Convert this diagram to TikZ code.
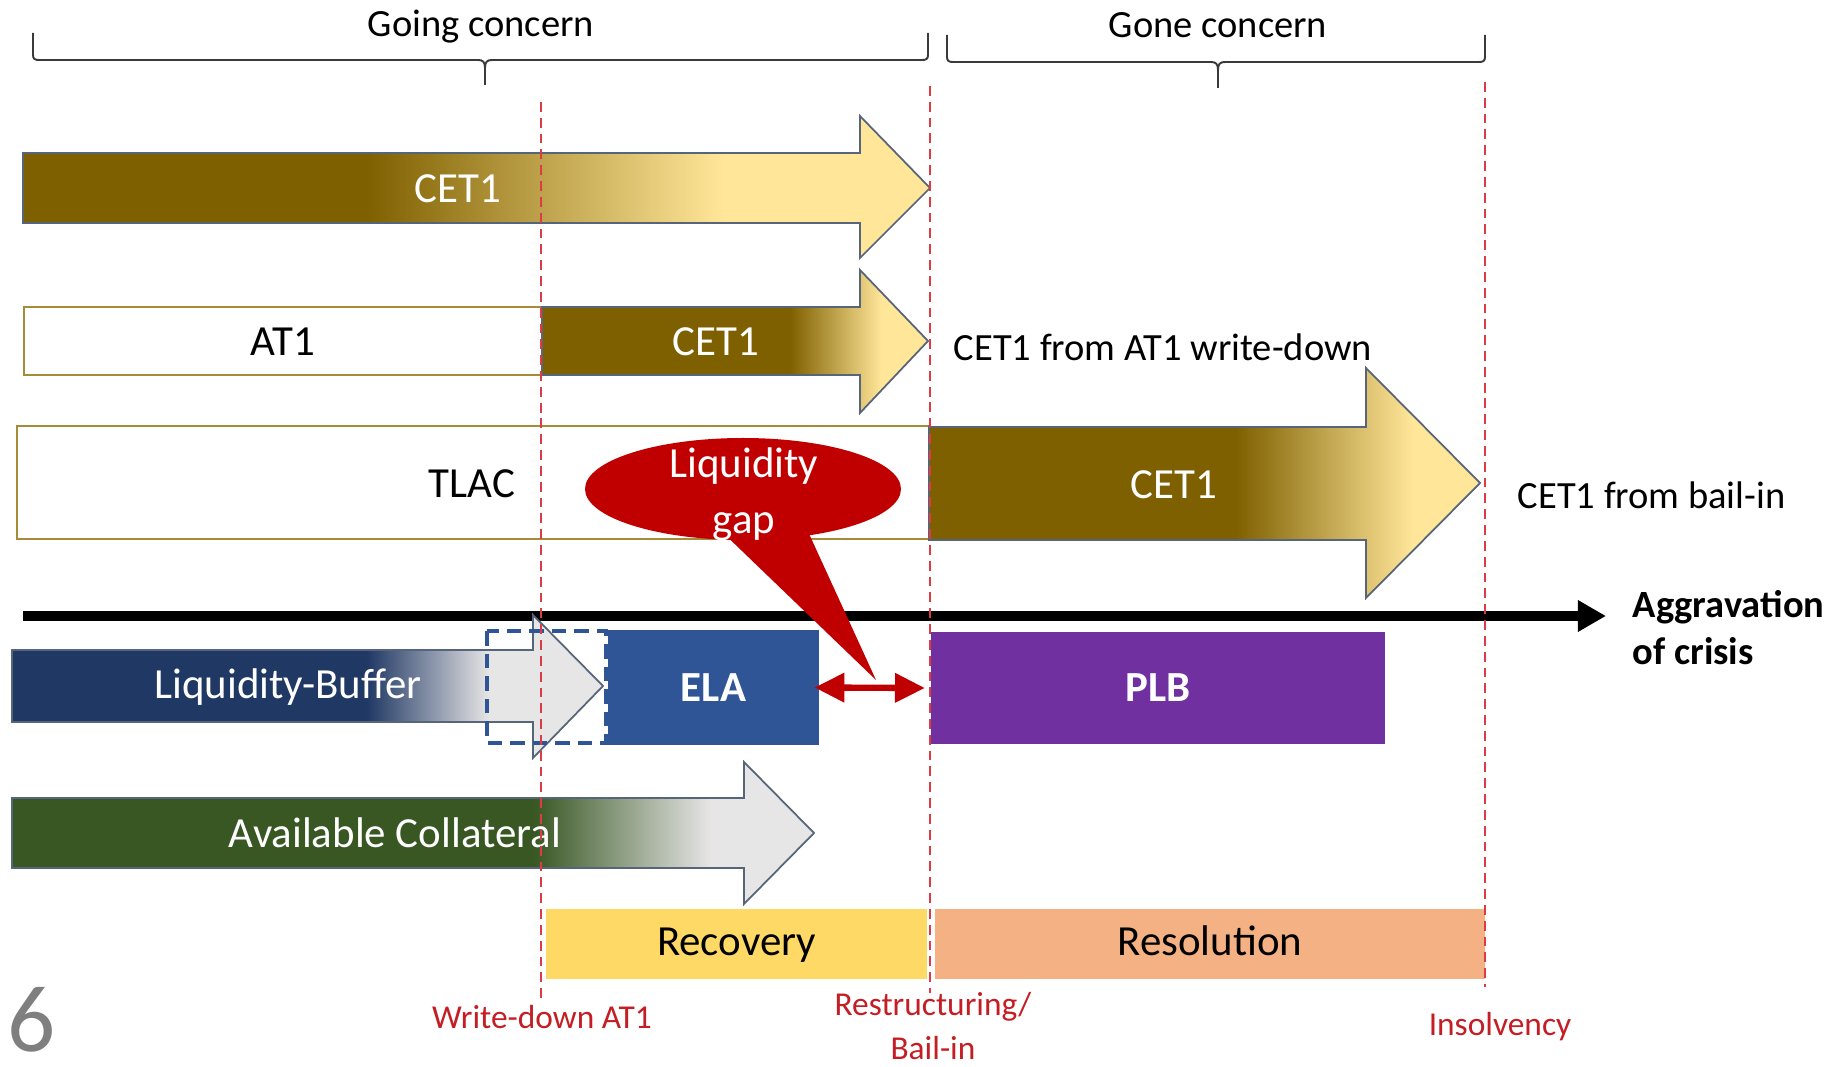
\documentclass[tikz,border=0pt]{standalone}
\usepackage{fontspec}
\setmainfont{Carlito}
\usetikzlibrary{arrows.meta}

\definecolor{capdark}{HTML}{7F6000}
\definecolor{caplight}{HTML}{FFE699}
\definecolor{navy}{HTML}{203864}
\definecolor{lightgrey}{HTML}{E7E6E6}
\definecolor{collgreen}{HTML}{385723}
\definecolor{elablue}{HTML}{2F5597}
\definecolor{plbpurple}{HTML}{7030A0}
\definecolor{recyellow}{HTML}{FFD966}
\definecolor{resorange}{HTML}{F4B183}
\definecolor{gapred}{HTML}{C00000}
\definecolor{markred}{HTML}{DC3C44}
\definecolor{labelred}{HTML}{C41E24}
\definecolor{boxgold}{HTML}{A68C38}
\definecolor{edgegrey}{HTML}{56657A}
\definecolor{bracegrey}{HTML}{3A3A3A}
\definecolor{pagenum}{HTML}{7F7F7F}

% horizontal colour ramps for the capital and liquidity arrows
\pgfdeclarehorizontalshading{cetone}{100bp}{color(0bp)=(capdark); color(43.9bp)=(capdark); color(63.6bp)=(caplight); color(100bp)=(caplight)}
\pgfdeclarehorizontalshading{cettwo}{100bp}{color(0bp)=(capdark); color(57.1bp)=(capdark); color(69bp)=(caplight); color(100bp)=(caplight)}
\pgfdeclarehorizontalshading{cetthree}{100bp}{color(0bp)=(capdark); color(52.8bp)=(capdark); color(68.9bp)=(caplight); color(100bp)=(caplight)}
\pgfdeclarehorizontalshading{bufferramp}{100bp}{color(0bp)=(navy); color(55bp)=(navy); color(65.4bp)=(lightgrey); color(100bp)=(lightgrey)}
\pgfdeclarehorizontalshading{collatramp}{100bp}{color(0bp)=(collgreen); color(57.5bp)=(collgreen); color(68.6bp)=(lightgrey); color(100bp)=(lightgrey)}

\tikzset{
  bigfont/.style={font=\fontsize{12.2pt}{14.5pt}\selectfont},
  midfont/.style={font=\fontsize{10.95pt}{13.4pt}\selectfont},
  redfont/.style={font=\fontsize{9.5pt}{12.5pt}\selectfont, text=labelred},
  whitelabel/.style={bigfont, text=white, inner sep=0pt},
  blacklabel/.style={bigfont, text=black, inner sep=0pt},
  phasebox/.style={blacklabel, minimum height=0.70cm, text height=0.7em, text depth=0.05em},
  arrowedge/.style={draw=edgegrey, line width=0.5pt},
  goldbox/.style={draw=boxgold, line width=0.7pt, fill=white},
  bracepath/.style={draw=bracegrey, line width=0.55pt},
  marker/.style={draw=markred, line width=0.6pt, dash pattern=on 2.8pt off 1.7pt},
}

\begin{document}
\begin{tikzpicture}[x=0.01cm, y=-0.01cm]
\useasboundingbox (0,0) rectangle (1841,1067);

% ---- phase braces ----
\path[bracepath] (33,33) -- (33,55) .. controls (33,59) and (35,60) .. (39,60)
  -- (478,60) .. controls (483,60) and (485,62) .. (485,68) -- (485,85)
  (485,68) .. controls (485,62) and (487,60) .. (492,60)
  -- (922,60) .. controls (926,60) and (928,59) .. (928,55) -- (928,33);
\node[midfont, inner sep=0pt] (going) at (481,27) {Going concern};

\path[bracepath] (947,35) -- (947,57) .. controls (947,61) and (949,62) .. (953,62)
  -- (1211,62) .. controls (1216,62) and (1218,64) .. (1218,70) -- (1218,88)
  (1218,70) .. controls (1218,64) and (1220,62) .. (1225,62)
  -- (1479,62) .. controls (1483,62) and (1485,61) .. (1485,57) -- (1485,35);
\node[midfont, inner sep=0pt] (gone) at (1218,25) {Gone concern};

% ---- row 1: CET1 ----
\shadedraw[shading=cetone, arrowedge] (23,153) -- (860,153) -- (860,116) -- (930,188)
  -- (860,258) -- (860,223) -- (23,223) -- cycle;
\node[whitelabel] (cetA) at (458,189) {CET1};

% ---- row 2: AT1 converted to CET1 ----
\path[goldbox] (24,307) rectangle (542,375);
\node[blacklabel] (at1) at (283,342) {AT1};
\shadedraw[shading=cettwo, arrowedge] (542,307) -- (860,307) -- (860,270) -- (928,341)
  -- (860,413) -- (860,375) -- (542,375) -- cycle;
\node[whitelabel] (cetB) at (716,342) {CET1};
\node[midfont, inner sep=0pt, anchor=west] (fromat1) at (953,347) {CET1 from AT1 write-down};

% ---- row 3: TLAC and bail-in ----
\path[goldbox] (17,426) rectangle (930,539);
\node[blacklabel] (tlac) at (472,484) {TLAC};
\shadedraw[shading=cetthree, arrowedge] (929,427) -- (1366,427) -- (1366,368) -- (1480,483)
  -- (1366,598) -- (1366,540) -- (929,540) -- cycle;
\node[whitelabel] (cetC) at (1174,485) {CET1};
\node[midfont, inner sep=0pt, anchor=west] (frombail) at (1517,495) {CET1 from bail-in};

% ---- time axis ----
\coordinate (axstart) at (23,616);
\coordinate (axend) at (1606,616);
\draw[line width=2.6pt, -{Triangle[length=8pt,width=8.5pt]}] (axstart) -- (axend);
\node[font=\fontsize{10.95pt}{13.4pt}\selectfont\bfseries, align=left, anchor=west, inner sep=0pt]
  (aggr) at (1632,628) {Aggravation\\of crisis};

% ---- liquidity gap callout ----
\coordinate (gaptip) at (876,680);
\fill[gapred] (715,525) -- (805,525) -- (gaptip) -- cycle;
\fill[gapred] (743,489) ellipse [x radius=158, y radius=51];
\node[whitelabel, font=\fontsize{12.2pt}{15.9pt}\selectfont, align=center] (gap) at (744,494) {Liquidity\\gap};

% ---- row 4: liquidity buffer, ELA, PLB ----
\shadedraw[shading=bufferramp, arrowedge] (12,650) -- (533,650) -- (533,615) -- (603,686)
  -- (533,758) -- (533,722) -- (12,722) -- cycle;
\node[whitelabel] (buffer) at (288,687) {Liquidity-Buffer};
\draw[elablue, line width=1.1pt, dash pattern=on 4.2pt off 2.2pt] (487,631) rectangle (606,743);
\node[fill=elablue, minimum width=2.11cm, minimum height=1.15cm, inner sep=0pt,
  text=white, font=\fontsize{12.2pt}{14.5pt}\selectfont\bfseries] (ela) at (713.5,687.5) {ELA};
\node[fill=plbpurple, minimum width=4.54cm, minimum height=1.12cm, inner sep=0pt,
  text=white, font=\fontsize{12.2pt}{14.5pt}\selectfont\bfseries] (plb) at (1158,688) {PLB};
\draw[gapred, line width=1.8pt, {Triangle[length=8.5pt,width=8pt]}-{Triangle[length=8.5pt,width=8pt]}]
  ([xshift=-1.5pt]ela.east) -- ([xshift=-1.5pt]plb.west);

% ---- row 5: available collateral ----
\shadedraw[shading=collatramp, arrowedge] (12,798) -- (744,798) -- (744,762) -- (814,833)
  -- (744,904) -- (744,868) -- (12,868) -- cycle;
\node[whitelabel] (collat) at (395,833) {Available Collateral};

% ---- row 6: recovery and resolution phases ----
\node[fill=recyellow, minimum width=3.81cm, inner sep=0pt, phasebox]
  (recovery) at (736.5,944) {Recovery};
\node[fill=resorange, minimum width=5.50cm, inner sep=0pt, phasebox]
  (resolution) at (1210,944) {Resolution};

% ---- trigger markers ----
\coordinate (wdtop) at (541,102);   \coordinate (wdbot) at (541,1000);
\coordinate (rstop) at (930,86);    \coordinate (rsbot) at (930,993);
\coordinate (intop) at (1485,82);   \coordinate (inbot) at (1485,987);
\draw[marker] (wdtop) -- (wdbot);
\draw[marker] (rstop) -- (rsbot);
\draw[marker] (intop) -- (inbot);

\node[redfont, inner sep=0pt] (wdlabel) at (542,1017) {Write-down AT1};
\node[redfont, inner sep=0pt, align=center] (rslabel) at (933,1026) {Restructuring/\\Bail-in};
\node[redfont, inner sep=0pt] (inlabel) at (1500,1027) {Insolvency};

% ---- slide number ----
\node[text=pagenum, font=\fontsize{27pt}{30pt}\selectfont, inner sep=0pt] (slideno) at (32,1020) {6};
\end{tikzpicture}
\end{document}
